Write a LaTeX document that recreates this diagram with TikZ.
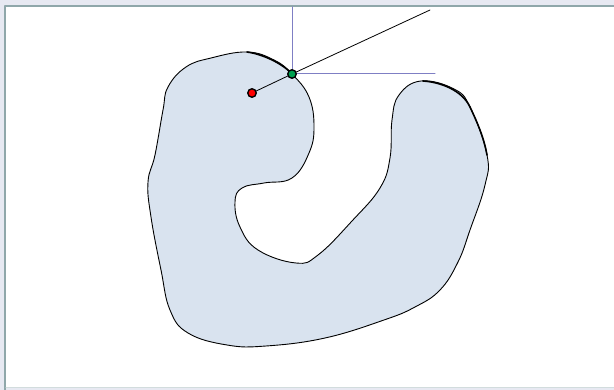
\documentclass[tikz,border=0pt]{standalone}
\definecolor{regionfill}{HTML}{D9E3EF}
\definecolor{framebg}{HTML}{E7E9F2}
\definecolor{frameline}{HTML}{8FA7AA}
\definecolor{axisblue}{HTML}{7F7FC4}
\definecolor{pointgreen}{HTML}{00A050}
\begin{document}
\begin{tikzpicture}[x=1pt,y=-1pt,line cap=round,line join=round,
  dot/.style={circle,draw=black,line width=1.4pt,inner sep=0pt,minimum size=8.5pt}]
\useasboundingbox (0,0) rectangle (614,390);

% Window frame.
\fill[framebg] (0,0) rectangle (614,390);
\fill[white] (5.5,6) rectangle (614,387);
\draw[frameline,line width=2pt] (5,390)--(5,6)--(614,6);
\draw[frameline!40,line width=1pt] (6,387.5)--(614,387.5);

\coordinate (P)  at (292,74);
\coordinate (O)  at (252,93);
\coordinate (U)  at (292,7);
\coordinate (H)  at (435,74);
\coordinate (T)  at (430,10);

% The region.
\draw[fill=regionfill,line width=0.9pt] plot[smooth cycle,tension=0.7] coordinates {
  (168,87) (186,67) (211,58) (247,52) (274,60) (292,74) (309,97) (314,127)
  (309,153) (292,178) (264,183) (242,188) (235,202) (240,227) (258,250)
  (296,263) (318,255) (352,221) (380,188) (390,158) (392,120) (399,95)
  (421,81) (454,89) (470,107) (487,155) (485,185) (470,230)
  (458,262) (440,290) (415,307) (384,320) (325,338) (266,346) (227,345)
  (188,333) (170,310) (161,270) (151,217) (148,182) (155,155)
  (163,110)};

% Heavier pieces of the boundary.
\draw[line width=1.6pt] (247,52) .. controls (262,54) and (282,63) .. (P);
\draw[line width=1.6pt] (423,81) .. controls (440,82) and (462,90) .. (470,107)
  .. controls (478,124) and (484,138) .. (487,155);

% Axes at the boundary point.
\draw[axisblue,line width=1pt] (P)--(U);
\draw[axisblue,line width=1pt] (P)--(H);
\draw[line width=0.8pt] (P)--(T);
\draw[line width=0.8pt] (O)--(P);

\node[dot,fill=red]         (o) at (O) {};
\node[dot,fill=pointgreen]  (p) at (P) {};
\end{tikzpicture}
\end{document}
